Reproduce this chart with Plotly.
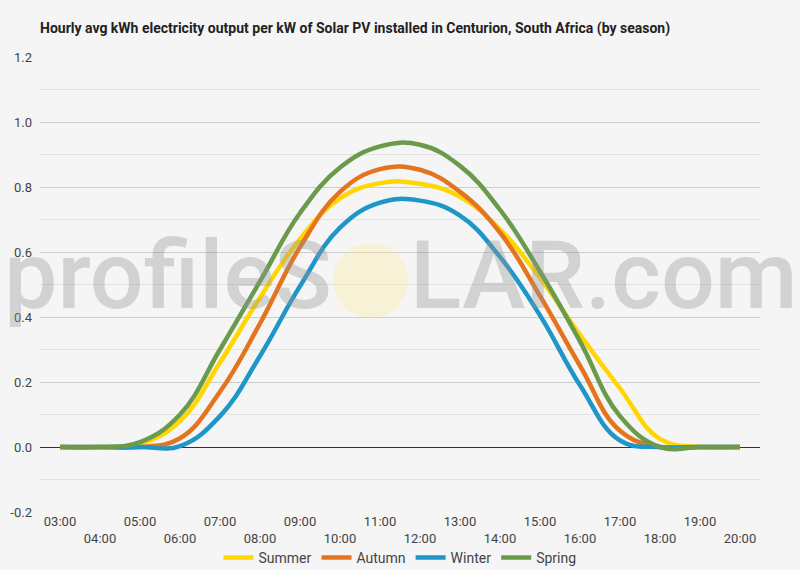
import plotly.graph_objects as go

hours = ["03:00", "04:00", "05:00", "06:00", "07:00", "08:00", "09:00", "10:00", "11:00",
         "12:00", "13:00", "14:00", "15:00", "16:00", "17:00", "18:00", "19:00", "20:00"]

summer = [0, 0, 0.01, 0.08, 0.26, 0.46, 0.64, 0.765, 0.812, 0.81, 0.77, 0.67, 0.52, 0.345, 0.18, 0.025, 0, 0]
autumn = [0, 0, 0, 0.027, 0.17, 0.38, 0.615, 0.785, 0.855, 0.853, 0.785, 0.66, 0.465, 0.25, 0.05, 0, 0, 0]
winter = [0, 0, 0, 0.003, 0.095, 0.28, 0.495, 0.675, 0.752, 0.758, 0.712, 0.585, 0.405, 0.19, 0.02, 0, 0, 0]
spring = [0, 0, 0.015, 0.10, 0.30, 0.51, 0.72, 0.86, 0.925, 0.93, 0.865, 0.73, 0.54, 0.325, 0.095, 0, 0, 0]

series_names = ["Summer", "Autumn", "Winter", "Spring"]
series_values = [summer, autumn, winter, spring]
series_colors = ["#FFD600", "#E5741F", "#1E96C8", "#6A9A4C"]

y_tick_vals = [-0.2, 0.0, 0.2, 0.4, 0.6, 0.8, 1.0, 1.2]
y_tick_text = ["-0.2", "0.0", "0.2", "0.4", "0.6", "0.8", "1.0", "1.2"]
x_tick_text = [h if i % 2 == 0 else "<br>" + h for i, h in enumerate(hours)]

fig = go.Figure()
for name, vals, col in zip(series_names, series_values, series_colors):
    fig.add_trace(go.Scatter(
        x=hours, y=vals, name=name, mode="lines",
        line=dict(color=col, width=4.5, shape="spline", smoothing=1.2),
    ))

W, H = 800, 570
L, R, T, B = 40, 40, 57, 58

def px_x(px):
    return (px - L) / (W - L - R)

def px_y(py):
    return (H - B - py) / (H - T - B)

wm_font = dict(family="Roboto", size=95, weight=500, color="rgba(150,150,150,0.36)")
fig.add_annotation(text="profileS", xref="paper", yref="paper", x=px_x(334), y=px_y(275),
                   xanchor="right", yanchor="middle", showarrow=False, font=wm_font)
fig.add_annotation(text="LAR.com", xref="paper", yref="paper", x=px_x(408), y=px_y(275),
                   xanchor="left", yanchor="middle", showarrow=False, font=wm_font)
fig.add_shape(type="circle", xref="paper", yref="paper",
              x0=px_x(333), x1=px_x(408), y0=px_y(318), y1=px_y(243),
              fillcolor="rgba(252,238,150,0.33)", line=dict(width=0), layer="above")

fig.update_layout(
    width=W, height=H,
    margin=dict(l=L, r=R, t=T, b=B, autoexpand=False),
    paper_bgcolor="#f5f5f5", plot_bgcolor="#f5f5f5",
    font=dict(family="Roboto", size=13, color="#444444"),
    title=dict(text="<b>Hourly avg kWh electricity output per kW of Solar PV installed in Centurion, South Africa (by season)</b>",
               x=40 / W, xref="container", xanchor="left",
               y=1 - 28 / H, yref="container", yanchor="middle",
               font=dict(family="Roboto", size=14, color="#222222")),
    xaxis=dict(type="category", range=[-0.5, 17.5], tickvals=hours, ticktext=x_tick_text,
               showgrid=False, zeroline=False, showline=False, ticks="", automargin=False,
               tickfont=dict(size=13, color="#444444")),
    yaxis=dict(range=[-0.2, 1.2], tickvals=y_tick_vals, ticktext=y_tick_text,
               showgrid=True, gridcolor="#cccccc", gridwidth=1,
               zeroline=True, zerolinecolor="#333333", zerolinewidth=1,
               minor=dict(dtick=0.1, tick0=0, showgrid=True, gridcolor="#e2e2e2"),
               ticks="", automargin=False, ticklabelstandoff=7,
               tickfont=dict(size=13, color="#444444")),
    legend=dict(orientation="h", x=0.5, xanchor="center", y=px_y(558), yanchor="middle",
                font=dict(size=14, color="#444444"), bgcolor="rgba(0,0,0,0)", itemwidth=30),
    showlegend=True,
)

fig.write_html("out.html")
